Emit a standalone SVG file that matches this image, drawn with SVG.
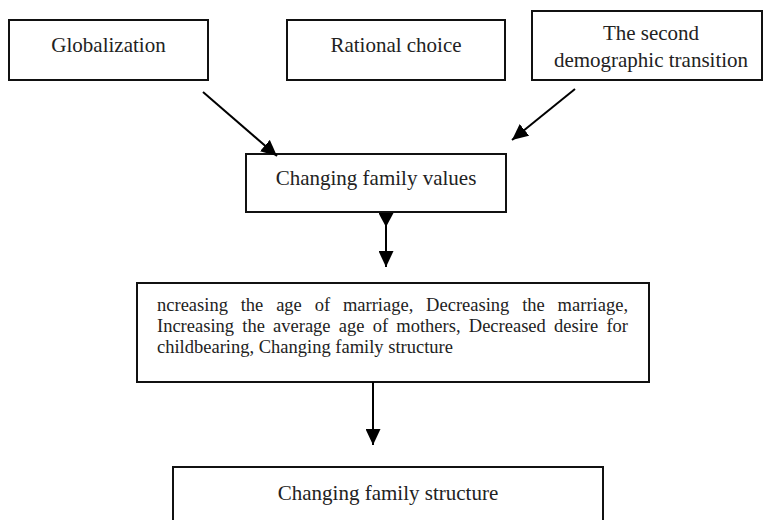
<svg xmlns="http://www.w3.org/2000/svg" width="763" height="520" viewBox="0 0 763 520">
<style>
.box{fill:#fff;stroke:#111;stroke-width:2}
.lbl{font-family:'Liberation Serif','Times New Roman',serif;font-size:21px;fill:#222;text-anchor:middle}
.body{font-family:'Liberation Serif','Times New Roman',serif;font-size:18.5px;fill:#222}
.c{fill:none;stroke:#000;stroke-width:2}
</style>
<defs>
<marker id="ah" markerUnits="userSpaceOnUse" markerWidth="17" markerHeight="15" refX="16" refY="7.5" orient="auto"><path d="M0,0 L16,7.5 L0,15 z" fill="#000"/></marker>
<marker id="as" markerUnits="userSpaceOnUse" markerWidth="15" markerHeight="15" refX="0" refY="7.5" orient="auto"><path d="M0,0 L14,7.5 L0,15 z" fill="#000"/></marker>
</defs>
<rect width="763" height="520" fill="#fff"/>
<g id="globalization"><rect class="box" x="9" y="20" width="199" height="60"/><text class="lbl" font-family="Liberation Serif, serif" x="108.5" y="52">Globalization</text></g>
<g id="rational"><rect class="box" x="287" y="20" width="218" height="60"/><text class="lbl" font-family="Liberation Serif, serif" x="396" y="52">Rational choice</text></g>
<g id="sdt"><rect class="box" x="532" y="11" width="230" height="69"/><text class="lbl" font-family="Liberation Serif, serif" x="651" y="40">The second</text><text class="lbl" font-family="Liberation Serif, serif" x="651" y="67">demographic transition</text></g>
<g id="values"><rect class="box" x="246" y="154" width="260" height="58"/><text class="lbl" font-family="Liberation Serif, serif" x="376" y="185">Changing family values</text></g>
<g id="effects"><rect class="box" x="137" y="283" width="512" height="99"/>
<text class="body" x="157" y="311" style="word-spacing:8.2px" textLength="471" lengthAdjust="spacing">ncreasing the age of marriage, Decreasing the marriage,</text>
<text class="body" x="157" y="332" style="word-spacing:3.6px" textLength="471" lengthAdjust="spacing">Increasing the average age of mothers, Decreased desire for</text>
<text class="body" x="157" y="353">childbearing, Changing family structure</text></g>
<g id="structure"><rect class="box" x="173" y="467" width="430" height="70"/><text class="lbl" font-family="Liberation Serif, serif" x="388" y="500">Changing family structure</text></g>
<g id="connectors">
<line class="c" x1="203" y1="92" x2="277" y2="156" marker-end="url(#ah)"/>
<line class="c" x1="575" y1="89" x2="512" y2="140" marker-end="url(#ah)"/>
<line class="c" x1="386" y1="213" x2="386" y2="267" marker-start="url(#as)" marker-end="url(#ah)"/>
<line class="c" x1="373" y1="382" x2="373" y2="445" marker-end="url(#ah)"/>
</g>
</svg>
